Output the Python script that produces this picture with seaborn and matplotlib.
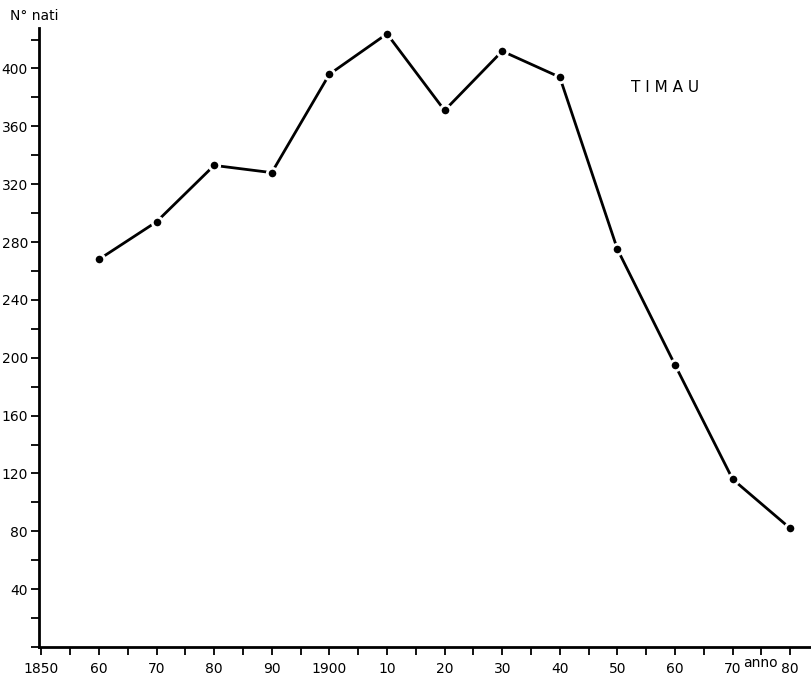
import matplotlib
matplotlib.use("Agg")
import matplotlib.pyplot as plt
import seaborn as sns
import pandas as pd
from matplotlib.ticker import MultipleLocator, FixedLocator

# Data
anni = [1860, 1870, 1880, 1890, 1900, 1910, 1920, 1930, 1940, 1950, 1960, 1970, 1980]
nati = [268, 294, 333, 328, 396, 424, 371, 412, 394, 275, 195, 116, 82]
x_tick_years = [1850, 1860, 1870, 1880, 1890, 1900, 1910, 1920, 1930, 1940, 1950, 1960, 1970, 1980]
x_tick_labels = ["1850", "60", "70", "80", "90", "1900", "10", "20", "30", "40", "50", "60", "70", "80"]
y_ticks = [40, 80, 120, 160, 200, 240, 280, 320, 360, 400]

df = pd.DataFrame({"anno": anni, "nati": nati})

sns.set_style("ticks")
plt.rcParams["font.family"] = ["DejaVu Sans"]
plt.rcParams["text.color"] = "black"
plt.rcParams["xtick.color"] = "black"
plt.rcParams["ytick.color"] = "black"
plt.rcParams["axes.edgecolor"] = "black"

fig = plt.figure(figsize=(8.11, 6.79), dpi=100)
ax = fig.add_axes([39 / 811, 32 / 679, 772 / 811, 619 / 679])

sns.lineplot(data=df, x="anno", y="nati", ax=ax, color="black", linewidth=2.0,
             marker="o", markersize=7.5, markerfacecolor="black",
             markeredgecolor="white", markeredgewidth=2.0)

ax.set_xlim(1849.6, 1983.6)
ax.set_ylim(0, 428)

for s in ["top", "right"]:
    ax.spines[s].set_visible(False)
ax.spines["left"].set_linewidth(2.0)
ax.spines["bottom"].set_linewidth(2.0)

ax.xaxis.set_major_locator(FixedLocator(x_tick_years))
ax.set_xticklabels(x_tick_labels, fontsize=10, color="black")
ax.xaxis.set_minor_locator(MultipleLocator(5))
ax.yaxis.set_major_locator(FixedLocator(y_ticks))
ax.set_yticklabels([str(v) for v in y_ticks], fontsize=10, color="black")
ax.yaxis.set_minor_locator(MultipleLocator(20))

ax.tick_params(axis="both", which="both", direction="out", width=1.3, color="black")
ax.tick_params(axis="x", which="both", length=6, pad=5)
ax.tick_params(axis="y", which="both", length=6, pad=2)

ax.set_xlabel("")
ax.set_ylabel("")

fig.text(10 / 811, 1 - 16 / 679, "N° nati", fontsize=10, ha="left", va="center", color="black")
fig.text(760 / 811, 1 - 663 / 679, "anno", fontsize=10, ha="center", va="center", color="black")
fig.text(665 / 811, 1 - 87 / 679, "T I M A U", fontsize=11, ha="center", va="center", color="black")

fig.savefig("out.png", dpi=100, facecolor="white")
